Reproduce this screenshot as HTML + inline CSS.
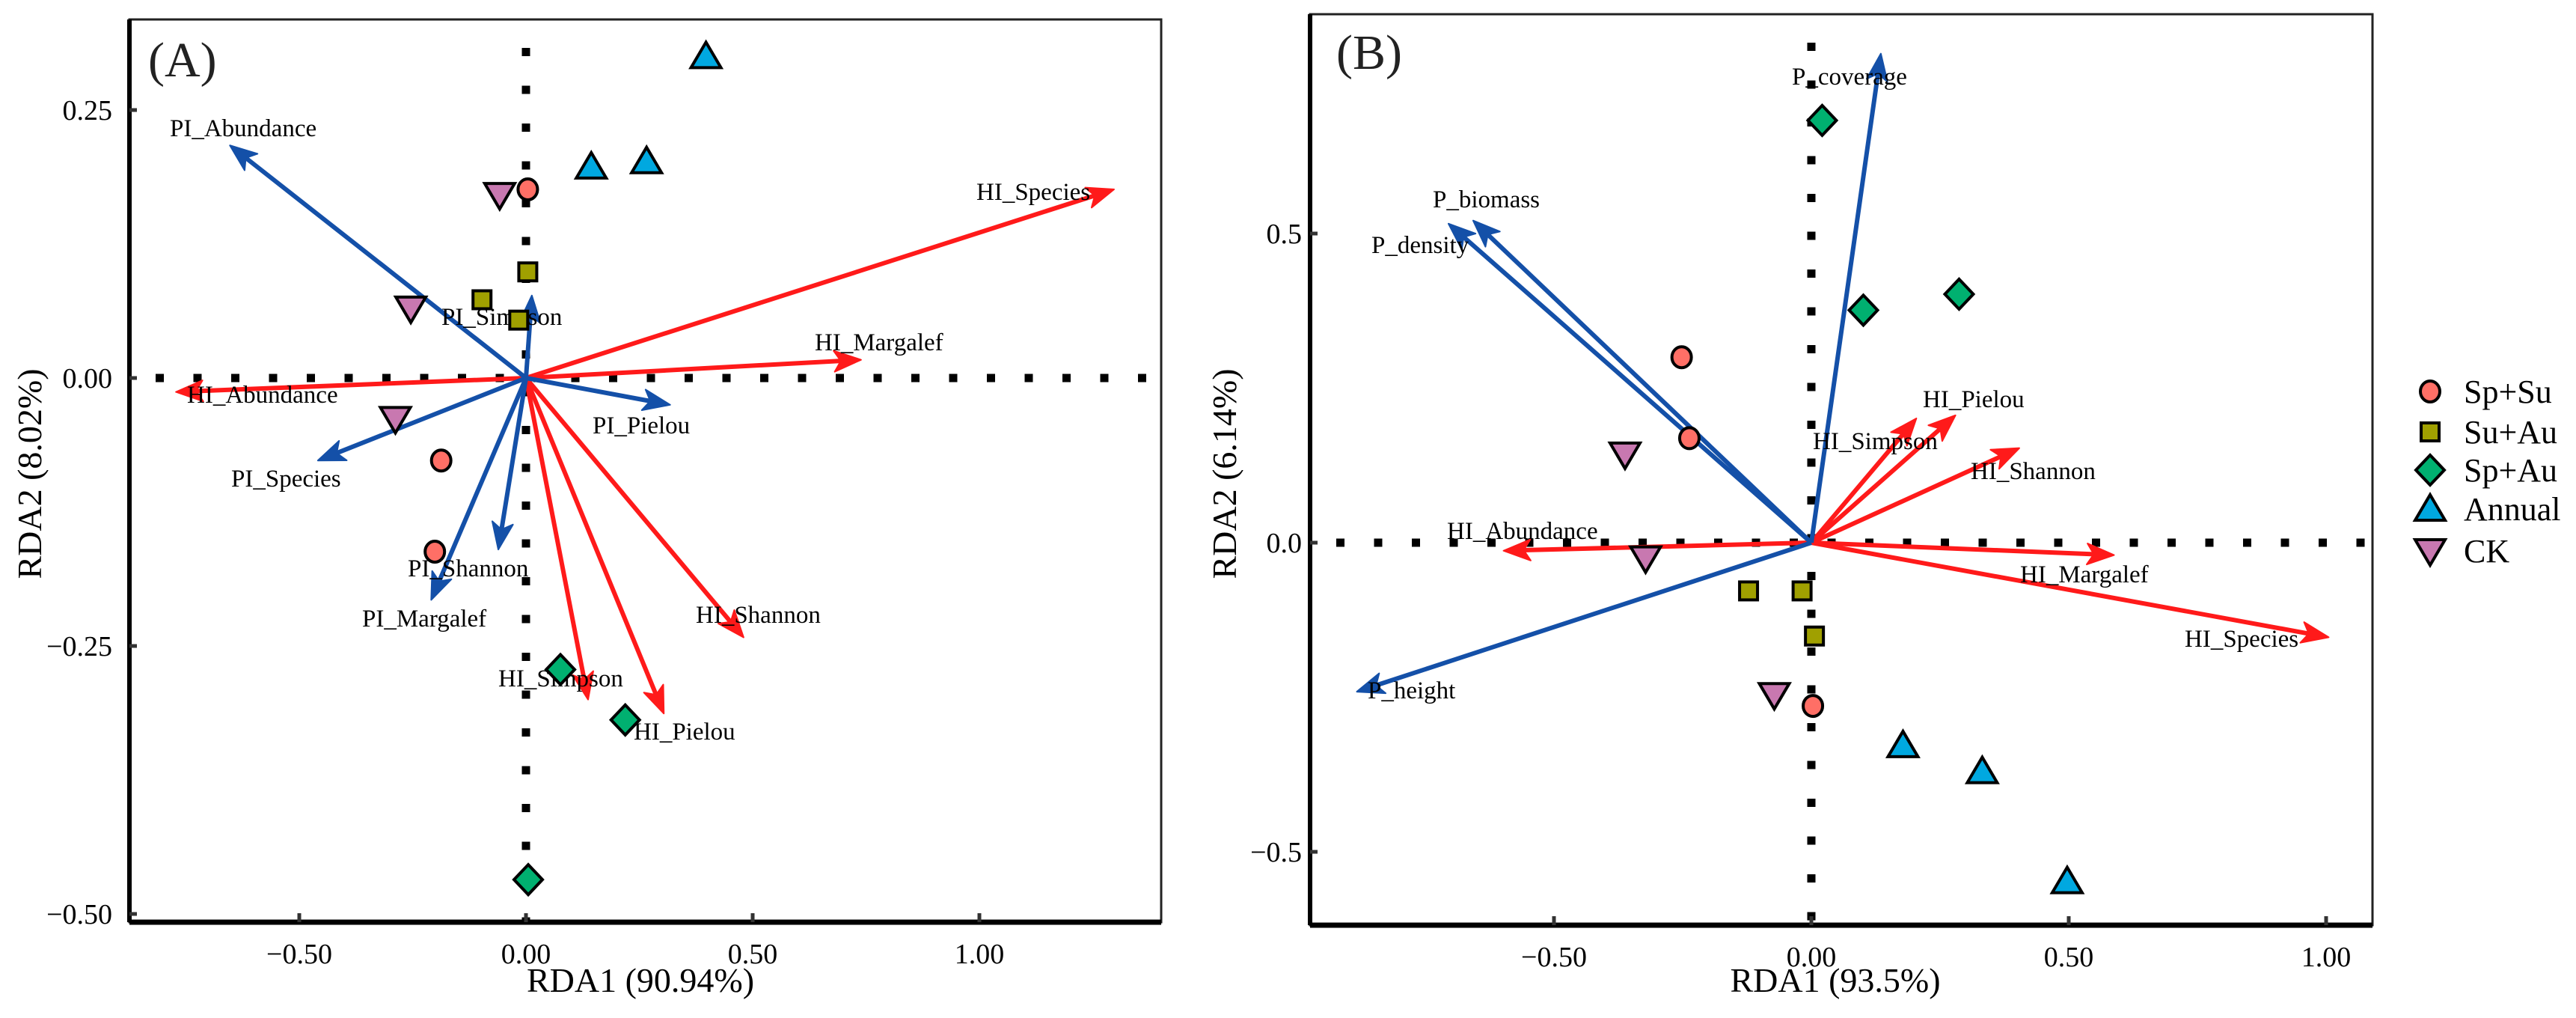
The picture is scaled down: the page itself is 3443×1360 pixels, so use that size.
<!DOCTYPE html>
<html><head><meta charset="utf-8"><style>
html,body{margin:0;padding:0;background:#fff;}
svg{display:block;font-family:"Liberation Serif",serif;}
</style></head><body>
<svg id="chart" width="3443" height="1360" viewBox="0 0 3443 1360" xmlns="http://www.w3.org/2000/svg">
<g id="panelA"></g>
<g id="panelB"></g>
<g id="legend"></g>
</svg>
<script>
// ---------- Panel A data ----------
const aSpSuX = [0.004, -0.187, -0.201];
const aSpSuY = [0.176, -0.077, -0.162];
const aSuAuX = [0.004, -0.097, -0.016];
const aSuAuY = [0.099, 0.073, 0.054];
const aSpAuX = [0.076, 0.219, 0.005];
const aSpAuY = [-0.272, -0.319, -0.468];
const aAnnX = [0.397, 0.144, 0.266];
const aAnnY = [0.300, 0.197, 0.202];
const aCKX = [-0.058, -0.254, -0.288];
const aCKY = [0.171, 0.065, -0.038];
const aBlueNames = ["PI_Abundance","PI_Simpson","PI_Pielou","PI_Species","PI_Shannon","PI_Margalef"];
const aBlueX = [-0.653, 0.013, 0.318, -0.459, -0.061, -0.209];
const aBlueY = [0.217, 0.077, -0.025, -0.077, -0.160, -0.207];
const aRedNames = ["HI_Species","HI_Margalef","HI_Abundance","HI_Shannon","HI_Simpson","HI_Pielou"];
const aRedX = [1.297, 0.739, -0.772, 0.480, 0.137, 0.304];
const aRedY = [0.176, 0.017, -0.013, -0.242, -0.300, -0.313];
const aXTicks = [-0.5, 0, 0.5, 1.0];
const aXTickLabels = ["\u22120.50","0.00","0.50","1.00"];
const aYTicks = [0.25, 0, -0.25, -0.5];
const aYTickLabels = ["0.25","0.00","\u22120.25","\u22120.50"];
// ---------- Panel B data ----------
const bSpSuX = [-0.252, -0.237, 0.003];
const bSpSuY = [0.300, 0.169, -0.264];
const bSuAuX = [-0.122, -0.018, 0.006];
const bSuAuY = [-0.078, -0.078, -0.151];
const bSpAuX = [0.021, 0.101, 0.287];
const bSpAuY = [0.683, 0.376, 0.402];
const bAnnX = [0.178, 0.332, 0.497];
const bAnnY = [-0.328, -0.370, -0.548];
const bCKX = [-0.362, -0.322, -0.072];
const bCKY = [0.143, -0.025, -0.246];
const bBlueNames = ["P_coverage","P_biomass","P_density","P_height"];
const bBlueX = [0.135, -0.657, -0.705, -0.883];
const bBlueY = [0.791, 0.521, 0.516, -0.241];
const bRedNames = ["HI_Pielou","HI_Simpson","HI_Shannon","HI_Abundance","HI_Margalef","HI_Species"];
const bRedX = [0.280, 0.204, 0.404, -0.598, 0.588, 1.005];
const bRedY = [0.206, 0.201, 0.153, -0.013, -0.020, -0.153];
const bXTicks = [-0.5, 0, 0.5, 1.0];
const bXTickLabels = ["\u22120.50","0.00","0.50","1.00"];
const bYTicks = [0.5, 0, -0.5];
const bYTickLabels = ["0.5","0.0","\u22120.5"];
const legendLabels = ["Sp+Su","Su+Au","Sp+Au","Annual","CK"];

const NS = "http://www.w3.org/2000/svg";
function mk(tag, attrs, parent){
  const e = document.createElementNS(NS, tag);
  for (const k in attrs) e.setAttribute(k, attrs[k]);
  parent.appendChild(e); return e;
}
const COL = {spsu:"#FF6F66", suau:"#A0A000", spau:"#00B070", ann:"#00A8E0", ck:"#C878B0"};
const BLUE = "#1450A8", RED = "#FF1A1A";

function marker(g, type, x, y){
  let e;
  const st = {stroke:"#000","stroke-width":4,"stroke-linejoin":"miter"};
  if (type==="spsu"){ e = mk("ellipse", Object.assign({cx:x,cy:y,rx:13,ry:14,fill:COL.spsu},st), g); }
  else if (type==="suau"){ e = mk("rect", Object.assign({x:x-12,y:y-12,width:24,height:24,fill:COL.suau},st), g); }
  else if (type==="spau"){ e = mk("polygon", Object.assign({points:`${x},${y-20} ${x+19},${y} ${x},${y+20} ${x-19},${y}`,fill:COL.spau},st), g); }
  else if (type==="ann"){ e = mk("polygon", Object.assign({points:`${x},${y-19} ${x+20},${y+15} ${x-20},${y+15}`,fill:COL.ann},st), g); }
  else { e = mk("polygon", Object.assign({points:`${x-20},${y-15} ${x+20},${y-15} ${x},${y+19}`,fill:COL.ck},st), g); }
  return e;
}

function arrow(g, x0, y0, x1, y1, color){
  const ang = Math.atan2(y1-y0, x1-x0);
  const c = Math.cos(ang), s = Math.sin(ang);
  const L = 36, W = 14, N = 27;
  const ln = mk("line",{x1:x0,y1:y0,x2:x1-N*c,y2:y1-N*s,stroke:color,"stroke-width":6},g);
  const bx = x1 - L*c, by = y1 - L*s;
  const p1x = bx - W*s, p1y = by + W*c;
  const p2x = bx + W*s, p2y = by - W*c;
  const nx = x1 - N*c, ny = y1 - N*s;
  mk("polygon",{points:`${x1},${y1} ${p1x},${p1y} ${nx},${ny} ${p2x},${p2y}`,fill:color,stroke:color,"stroke-width":2,"stroke-linejoin":"round"},g);
  return ln;
}

function panel(cfg){
  const g = document.getElementById(cfg.id);
  const sx = v => cfg.x0 + v*cfg.kx;
  const sy = v => cfg.y0 - v*cfg.ky;
  const h = mk("line",{x1:cfg.L+35,y1:sy(0),x2:cfg.R,y2:sy(0),stroke:"#000","stroke-width":11,"stroke-dasharray":"11 39.5"},g);
   
  const v = mk("line",{x1:sx(0),y1:cfg.T+38,x2:sx(0),y2:cfg.B,stroke:"#000","stroke-width":11,"stroke-dasharray":"11 39.5"},g);
   
  const fr = mk("rect",{x:cfg.L,y:cfg.T,width:cfg.R-cfg.L,height:cfg.B-cfg.T,fill:"none",stroke:"#222","stroke-width":3},g);
   
  mk("line",{x1:cfg.L,y1:cfg.B,x2:cfg.R,y2:cfg.B,stroke:"#000","stroke-width":7},g);
  mk("line",{x1:cfg.L,y1:cfg.T,x2:cfg.L,y2:cfg.B,stroke:"#000","stroke-width":6},g);
  cfg.xt.forEach((t,i)=>{
    mk("line",{x1:sx(t),y1:cfg.B-12,x2:sx(t),y2:cfg.B,stroke:"#333","stroke-width":5},g);
    const tx = mk("text",{x:sx(t),y:cfg.B+55,"text-anchor":"middle","font-size":38,fill:"#000"},g);
    tx.textContent = cfg.xl[i];
     
  });
  cfg.yt.forEach((t,i)=>{
    mk("line",{x1:cfg.L,y1:sy(t),x2:cfg.L+10,y2:sy(t),stroke:"#333","stroke-width":5},g);
    const tx = mk("text",{x:cfg.ylx,y:sy(t)+13,"text-anchor":"end","font-size":38,fill:"#000"},g);
    tx.textContent = cfg.yl[i];
     
  });
  const xt = mk("text",{x:cfg.xtx,y:1325,"text-anchor":"middle","font-size":46,fill:"#000"},g);
  xt.textContent = cfg.xtitle;
   
  const yt = mk("text",{x:0,y:0,"text-anchor":"middle","font-size":46,fill:"#000",transform:`translate(${cfg.ytx},633) rotate(-90)`},g);
  yt.textContent = cfg.ytitle;
   
  const pl = mk("text",{x:cfg.plx,y:cfg.ply,"font-size":66,fill:"#222"},g);
  pl.textContent = cfg.panelLabel;
   
  cfg.redX.forEach((x,i)=>{
    const a = arrow(g, sx(0), sy(0), sx(x), sy(cfg.redY[i]), RED);
    
    
  });
  cfg.blueX.forEach((x,i)=>{
    const a = arrow(g, sx(0), sy(0), sx(x), sy(cfg.blueY[i]), BLUE);
    
    
  });
  cfg.labels.forEach(l=>{
    const t = mk("text",{x:l[1],y:l[2],"font-size":33,fill:"#000"},g);
    t.textContent = l[0];
     
  });
  cfg.pts.forEach(p=>{
    p[1].forEach((x,i)=>{
      const m = marker(g, p[0], sx(x), sy(p[2][i]));
      
      
    });
  });
}

panel({id:"panelA", L:173, R:1552, T:26, B:1232, x0:703, kx:606, y0:505, ky:1432,
  xt:aXTicks, xl:aXTickLabels, yt:aYTicks, yl:aYTickLabels, ylx:150,
  xtitle:"RDA1 (90.94%)", xtx:856, ytitle:"RDA2 (8.02%)", ytx:55,
  panelLabel:"(A)", plx:198, ply:102,
  redX:aRedX, redY:aRedY, redN:aRedNames, blueX:aBlueX, blueY:aBlueY, blueN:aBlueNames,
  labels:[["PI_Abundance",227,182],["HI_Species",1305,267],["PI_Simpson",590,434],["HI_Margalef",1089,468],
    ["HI_Abundance",250,538],["PI_Pielou",792,579],["PI_Species",309,650],["PI_Shannon",545,770],
    ["PI_Margalef",484,837],["HI_Shannon",930,832],["HI_Simpson",666,917],["HI_Pielou",847,988]],
  pts:[["spsu",aSpSuX,aSpSuY],["suau",aSuAuX,aSuAuY],["spau",aSpAuX,aSpAuY],["ann",aAnnX,aAnnY],["ck",aCKX,aCKY]]
});

panel({id:"panelB", L:1751, R:3171, T:19, B:1236, x0:2421, kx:688, y0:725, ky:826,
  xt:bXTicks, xl:bXTickLabels, yt:bYTicks, yl:bYTickLabels, ylx:1740,
  xtitle:"RDA1 (93.5%)", xtx:2453, ytitle:"RDA2 (6.14%)", ytx:1652,
  panelLabel:"(B)", plx:1786, ply:92,
  redX:bRedX, redY:bRedY, redN:bRedNames, blueX:bBlueX, blueY:bBlueY, blueN:bBlueNames,
  labels:[["P_coverage",2395,113],["P_biomass",1915,277],["P_density",1833,338],["HI_Pielou",2570,544],
    ["HI_Simpson",2423,600],["HI_Shannon",2634,640],["HI_Abundance",1934,720],["HI_Margalef",2700,778],
    ["HI_Species",2920,864],["P_height",1828,933]],
  pts:[["spsu",bSpSuX,bSpSuY],["suau",bSuAuX,bSuAuY],["spau",bSpAuX,bSpAuY],["ann",bAnnX,bAnnY],["ck",bCKX,bCKY]]
});

const lg = document.getElementById("legend");
const lTypes = ["spsu","suau","spau","ann","ck"];
const lYs = [523,577,628,680,736];
lTypes.forEach((t,i)=>{
  const m = marker(lg, t, 3248, lYs[i]);
  
  
  const tx = mk("text",{x:3293,y:lYs[i]+15,"font-size":44,fill:"#000"},lg);
  tx.textContent = legendLabels[i];
   
});
</script>
</body></html>
